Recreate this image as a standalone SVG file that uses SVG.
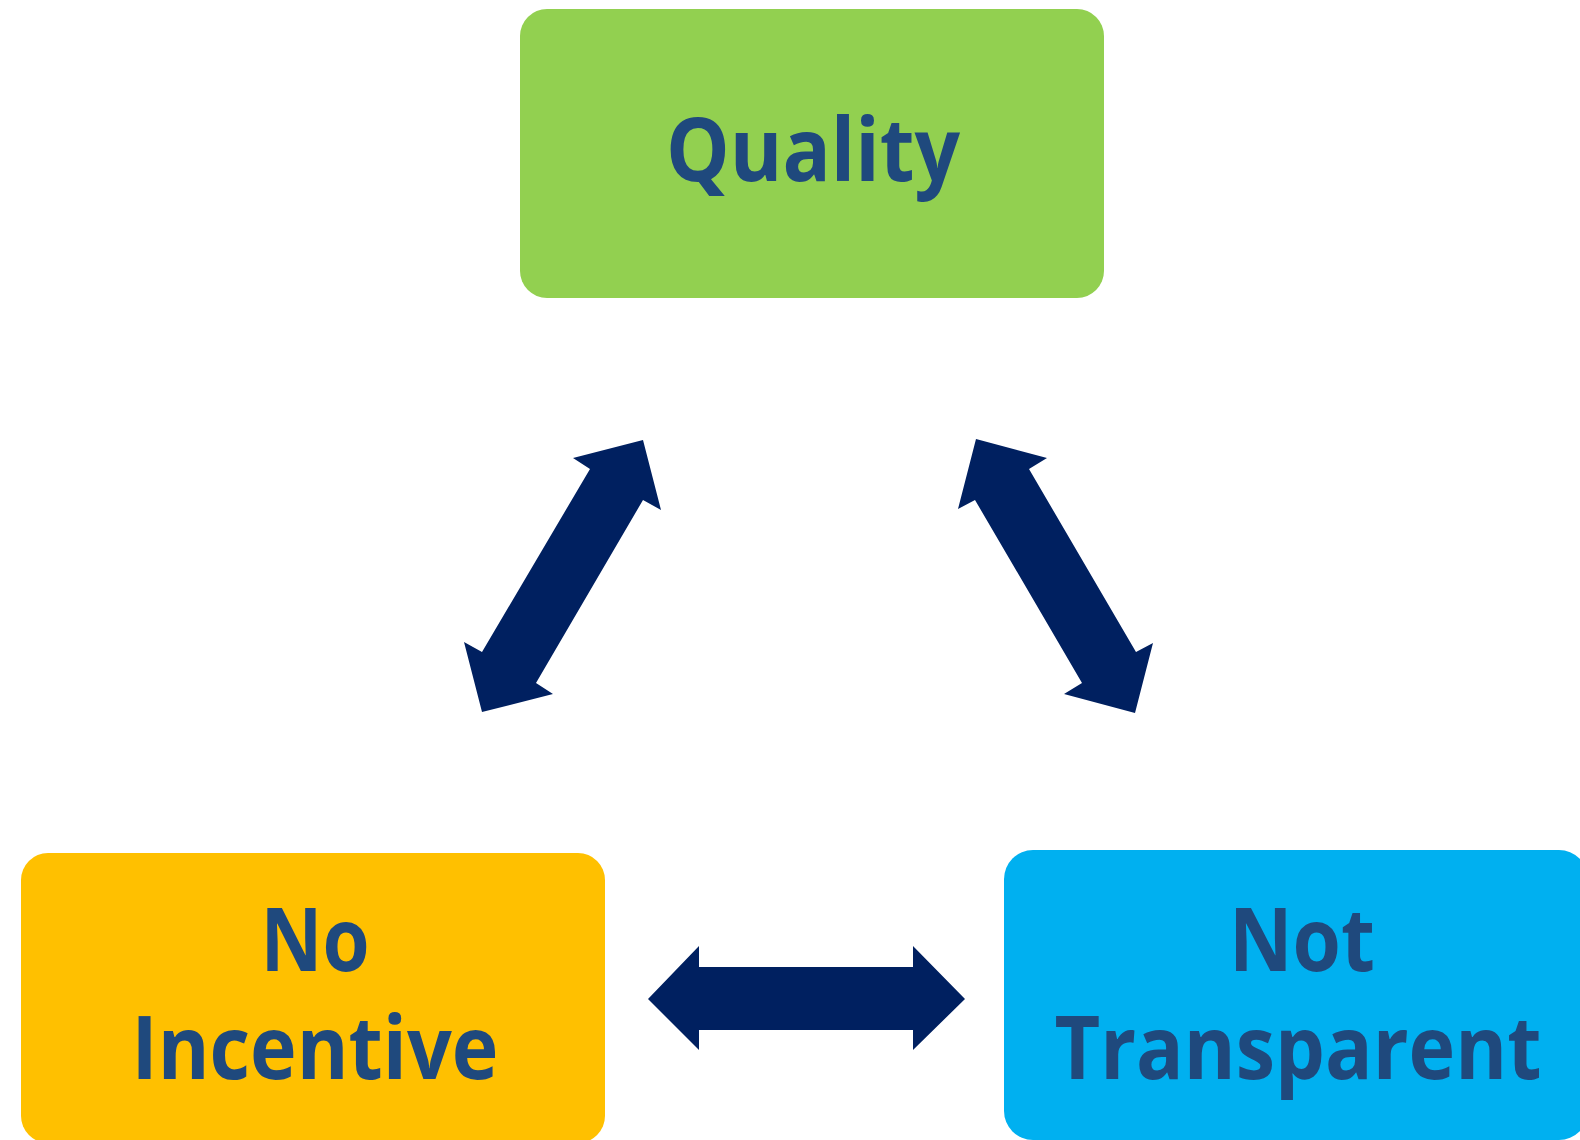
<svg xmlns="http://www.w3.org/2000/svg" width="1580" height="1140" viewBox="0 0 1580 1140">
<style>
.lbl{font-family:"Open Sans","Liberation Sans",sans-serif;font-weight:bold;font-size:88px;fill:#1F497D;text-anchor:middle}
.arr{fill:#002060}
</style>
<rect width="1580" height="1140" fill="#FFFFFF"/>
<g id="quality">
<rect x="520" y="9" width="584" height="289" rx="27" ry="27" fill="#92D050"/>
<text class="lbl" x="813" y="181" textLength="294" lengthAdjust="spacingAndGlyphs">Quality</text>
</g>
<g id="no-incentive">
<rect x="21" y="853" width="584" height="290" rx="27" ry="27" fill="#FFC000"/>
<text class="lbl" x="315" y="971" textLength="109" lengthAdjust="spacingAndGlyphs">No</text>
<text class="lbl" x="315" y="1079" textLength="367" lengthAdjust="spacingAndGlyphs">Incentive</text>
</g>
<g id="not-transparent">
<rect x="1004" y="850" width="584" height="290" rx="29" ry="29" fill="#00B0F0"/>
<text class="lbl" x="1302" y="971" textLength="146" lengthAdjust="spacingAndGlyphs">Not</text>
<text class="lbl" x="1298" y="1079" textLength="487" lengthAdjust="spacingAndGlyphs">Transparent</text>
</g>
<g id="connectors">
<polygon class="arr" points="643,440 661,510 643,500 536,683 553,694 482,712 464,642 482,652 590,469 573,458"/>
<polygon class="arr" points="976,439 1047,458 1029,469 1136,652 1153,643 1135,713 1064,694 1082,683 975,500 958,509"/>
<polygon class="arr" points="648,999 699,946 699,967 913,967 913,946 965,999 913,1050 913,1030 699,1030 699,1050"/>
</g>
</svg>
